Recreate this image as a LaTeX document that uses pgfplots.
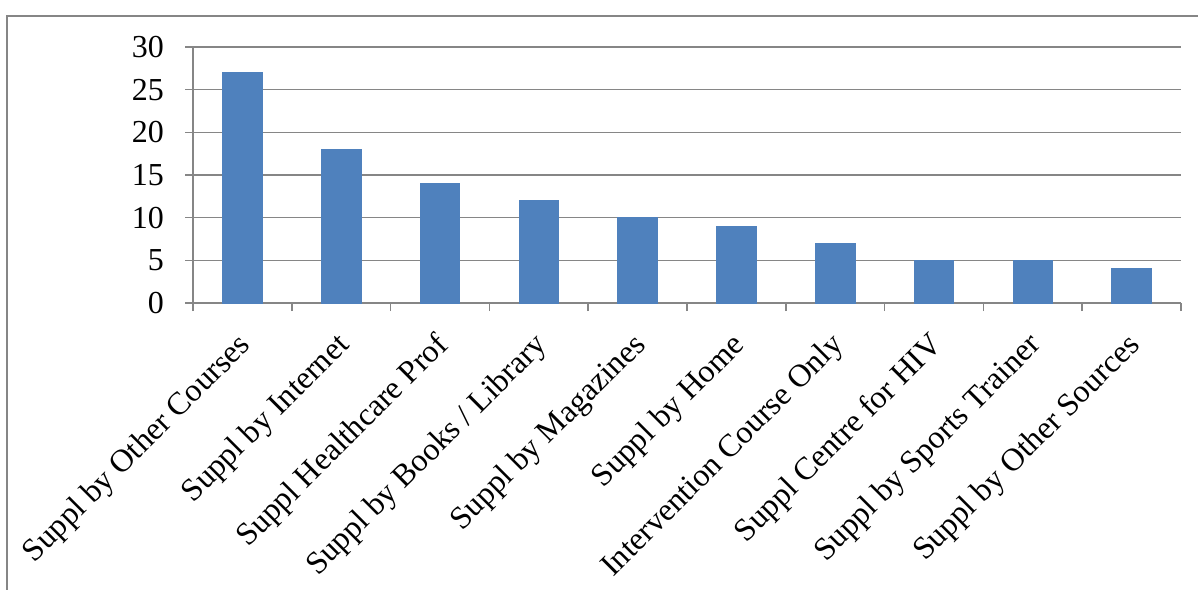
\documentclass[border=0pt]{standalone}
\usepackage{fontspec}
\setmainfont{Liberation Serif}
\usepackage{pgfplots}
\pgfplotsset{compat=1.18}
\definecolor{barblue}{RGB}{79,129,189}
\definecolor{gridgray}{RGB}{134,134,134}
\begin{document}
\fontsize{16}{19}\selectfont
\begin{tikzpicture}
\useasboundingbox (0,0) rectangle (599pt,294.5pt);
\draw[gridgray, line width=1pt] (3.5pt,-5pt) -- (3.5pt,286.5pt) -- (605pt,286.5pt);
\begin{axis}[
  at={(96.5pt,143pt)}, anchor=south west,
  scale only axis, width=494pt, height=128pt,
  xmin=-0.5, xmax=9.5, ymin=0, ymax=30,
  ytick={0,5,...,30},
  xtick={0,...,9},
  xticklabels={Suppl by Other Courses, Suppl by Internet, Suppl Healthcare Prof, Suppl by Books / Library, Suppl by Magazines, Suppl by Home, Intervention Course Only, Suppl Centre for HIV, Suppl by Sports Trainer, Suppl by Other Sources},
  minor xtick={-0.5,0.5,...,9.5},
  major x tick style={draw=none},
  minor x tick style={gridgray, line width=0.8pt},
  ytick style={gridgray, line width=0.8pt},
  tick align=outside,
  major tick length=4pt, minor tick length=4pt,
  axis x line*=bottom, axis y line*=left,
  axis line style={gridgray, line width=0.8pt, -},
  ymajorgrids, grid style={gridgray, line width=0.8pt},
  xticklabel style={rotate=45, anchor=north east, font=\fontsize{16}{19}\selectfont, inner sep=1pt, xshift=-8pt, yshift=-3.5pt},
  yticklabel style={font=\fontsize{16}{19}\selectfont, xshift=-5pt},
  /pgf/number format/assume math mode=true,
  ybar, bar width=0.4, bar shift=0pt,
]
\addplot[fill=barblue, draw=barblue] coordinates {(0,27) (1,18) (2,14) (3,12) (4,10) (5,9) (6,7) (7,5) (8,5) (9,4)};
\end{axis}
\end{tikzpicture}
\end{document}
